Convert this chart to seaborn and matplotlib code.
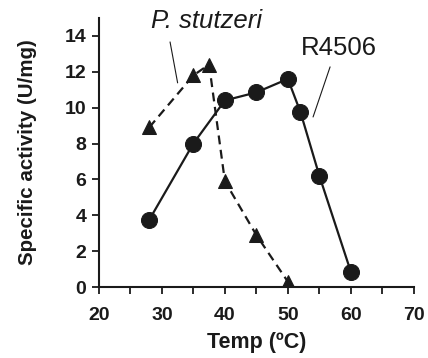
import matplotlib
matplotlib.use("Agg")
import matplotlib.pyplot as plt
import seaborn as sns
import pandas as pd

r4506_temp = [28, 35, 40, 45, 50, 52, 55, 60]
r4506_act = [3.75, 8.0, 10.4, 10.85, 11.6, 9.75, 6.2, 0.85]
stutzeri_temp = [28, 35, 37.5, 40, 45, 50]
stutzeri_act = [8.9, 11.8, 12.4, 5.9, 2.9, 0.3]
x_ticks = [20, 30, 40, 50, 60, 70]
y_ticks = [0, 2, 4, 6, 8, 10, 12, 14]

sns.set_style("ticks")
plt.rcParams['font.family'] = ['Liberation Sans', 'DejaVu Sans']

fig = plt.figure(figsize=(4.28, 3.58), dpi=100)
ax = fig.add_axes([0.231, 0.198, 0.736, 0.752])

c = "#1a1a1a"
df1 = pd.DataFrame({"t": r4506_temp, "a": r4506_act})
df2 = pd.DataFrame({"t": stutzeri_temp, "a": stutzeri_act})
sns.lineplot(data=df1, x="t", y="a", ax=ax, color=c, marker="o", markersize=11.5,
             linewidth=1.6, markeredgecolor=c, estimator=None, sort=False)
sns.lineplot(data=df2, x="t", y="a", ax=ax, color=c, marker="^", markersize=10,
             linewidth=1.6, linestyle=(0, (4, 2.5)), markeredgecolor=c,
             estimator=None, sort=False)

ax.set_xlim(20, 70)
ax.set_ylim(0, 15)
ax.set_xticks(x_ticks)
ax.set_xticks([25, 35, 45, 55, 65], minor=True)
ax.set_yticks(y_ticks)
ax.tick_params(axis="both", which="both", direction="out", length=5, width=1.3,
               color=c, labelsize=14, labelcolor=c, pad=4)
ax.tick_params(axis="x", which="major", pad=9)
for lab in ax.get_xticklabels() + ax.get_yticklabels():
    lab.set_fontweight("bold")
for s in ["top", "right"]:
    ax.spines[s].set_visible(False)
for s in ["left", "bottom"]:
    ax.spines[s].set_linewidth(1.5)
    ax.spines[s].set_color(c)

ax.set_xlabel("Temp (ºC)", fontsize=15.5, fontweight="bold", color=c, labelpad=6)
ax.set_ylabel("Specific activity (U/mg)", fontsize=14.8, fontweight="bold", color=c, labelpad=20)

ax.text(37.1, 14.8, "P. stutzeri", fontsize=18.5, style="italic", color=c,
        ha="center", va="center", clip_on=False)
ax.plot([31.3, 32.5], [13.66, 11.38], color=c, lw=0.8)
ax.text(58.1, 13.3, "R4506", fontsize=18.5, color=c, ha="center", va="center")
ax.plot([56.7, 54.0], [12.27, 9.48], color=c, lw=0.8)

fig.savefig("out.png", dpi=100)
